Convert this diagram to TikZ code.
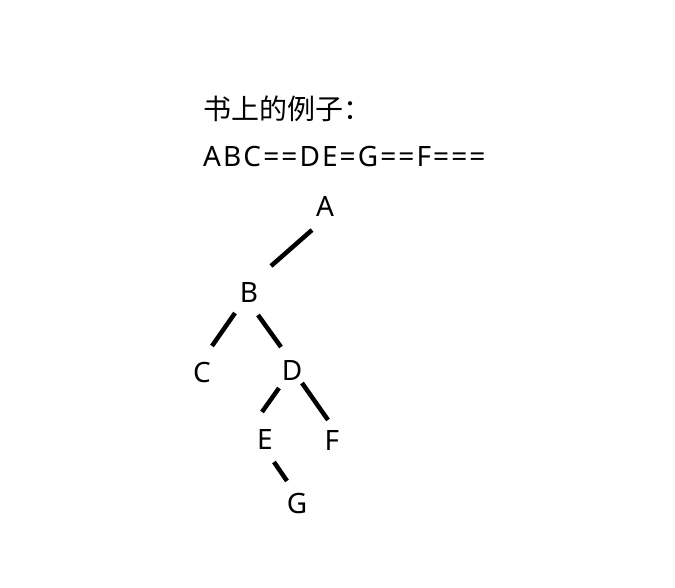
\documentclass[tikz,border=0pt]{standalone}
\usepackage{fontspec}
\setmainfont{Noto Sans}
\newfontfamily\cjk{Noto Sans CJK SC}
\newcommand\treesize{\fontsize{28pt}{32pt}\selectfont}
\tikzstyle{letter}=[font=\treesize,inner sep=0pt,text height=20pt,text depth=0pt]
\tikzstyle{caption}=[font=\treesize,inner sep=0pt,anchor=base west]
\tikzstyle{edge}=[line width=4.5pt]

\begin{document}
\begin{tikzpicture}[x=1pt,y=-1pt]
	\useasboundingbox (0,0) rectangle (675,588);
	\node[caption] (title) at (203,120) {\cjk 书上的例子：};
	\node[caption] (seq)   at (203,167) {\addfontfeature{LetterSpace=7.5}ABC==DE=G==F===};
	% the tree
	\node[letter] (A) at (325,207) {A};
	\node[letter] (B) at (249,292) {B};
	\node[letter] (C) at (202,372) {C};
	\node[letter] (D) at (292,370) {D};
	\node[letter] (E) at (265,439) {E};
	\node[letter] (F) at (332,440) {F};
	\node[letter] (G) at (297,503) {G};
	\draw[edge] ([shift={(-13,23)}]A.center) -- ([shift={(22,-26)}]B.center);
	\draw[edge] ([shift={(-14,21)}]B.center) -- ([shift={(10,-26)}]C.center);
	\draw[edge] ([shift={(9,23)}]B.center)   -- ([shift={(-11,-23)}]D.center);
	\draw[edge] ([shift={(-13,18)}]D.center) -- ([shift={(-3,-27)}]E.center);
	\draw[edge] ([shift={(10,13)}]D.center)  -- ([shift={(-4,-20)}]F.center);
	\draw[edge] ([shift={(9,23)}]E.center)   -- ([shift={(-10,-22)}]G.center);
\end{tikzpicture}
\end{document}
